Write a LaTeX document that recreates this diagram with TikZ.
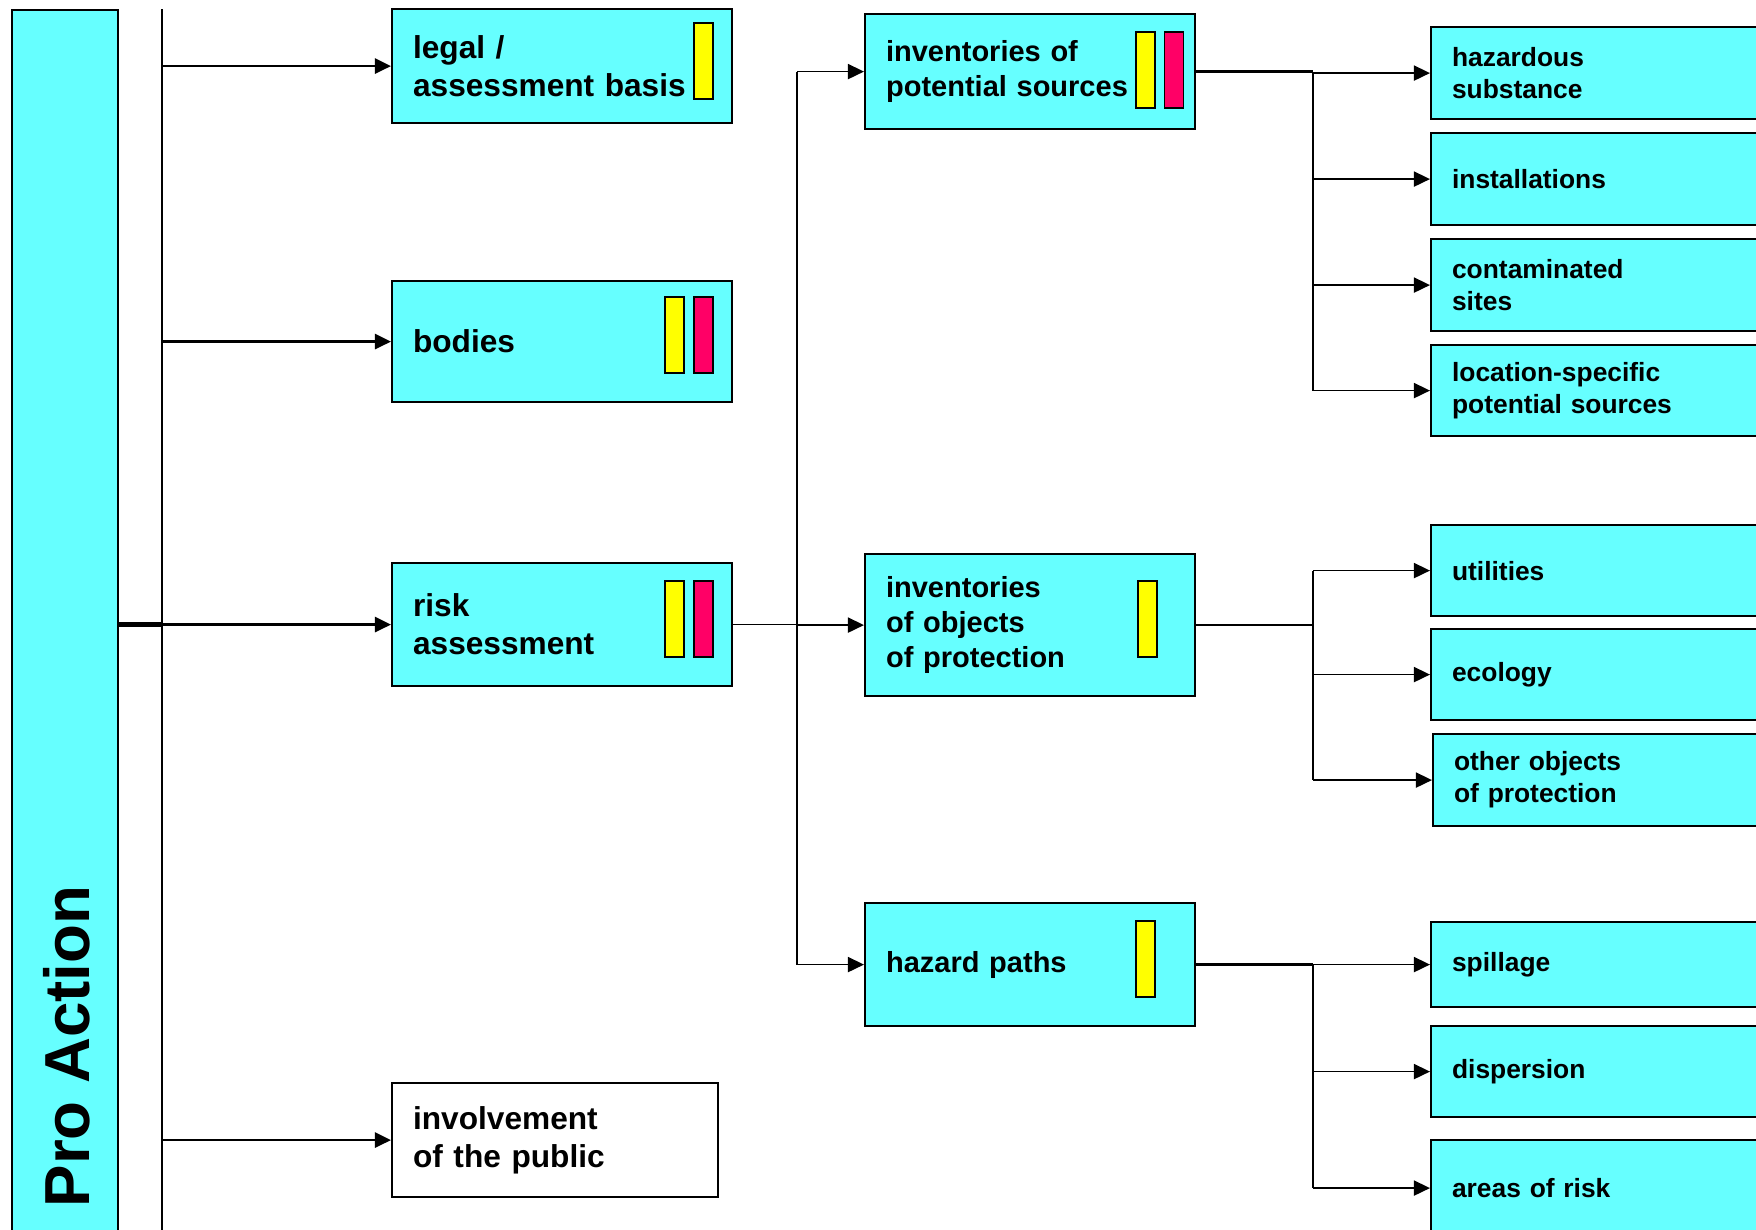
\documentclass[tikz,border=0pt]{standalone}
\usepackage{fontspec}
\setmainfont{Liberation Sans}
\usetikzlibrary{arrows.meta}

\definecolor{procyan}{RGB}{102,255,255}
\definecolor{proyellow}{RGB}{255,255,0}
\definecolor{prored}{RGB}{255,0,102}

\tikzstyle{box}=[draw,line width=0.6pt,fill=procyan,anchor=north west,align=left,inner ysep=0pt,inner xsep=0.21cm]
\tikzstyle{lvlone}=[box,text width=2.98cm,font=\bfseries\fontsize{9}{10.8}\selectfont]
\tikzstyle{lvltwo}=[box,text width=2.88cm,font=\bfseries\fontsize{8.25}{9.9}\selectfont]
\tikzstyle{lvlthree}=[box,text width=2.98cm,font=\bfseries\fontsize{7.5}{9.1}\selectfont]
\tikzstyle{flag}=[draw,line width=0.4pt,minimum width=0.19cm,minimum height=0.76cm,inner sep=0pt]
\tikzstyle{wire}=[draw,line width=0.5pt]
\tikzstyle{link}=[wire,-{Triangle[length=1.6mm,width=1.5mm]}]

\begin{document}
\begin{tikzpicture}[x=0.01cm, y=-0.01cm]
    \useasboundingbox (0,0) rectangle (1756,1230);
    \clip (0,0) rectangle (1756,1230);
    % Pro Action bar and the trunk beside it
    \node[draw,line width=0.6pt,fill=procyan,anchor=north west,minimum width=1.06cm,minimum height=12.4cm,inner sep=0pt] (pro) at (11,9) {};
    \node[rotate=90,anchor=base west,inner sep=0pt,font=\bfseries\fontsize{18.1}{20}\selectfont] (protext) at (89,1208) {Pro Action};
    \coordinate (trunktop) at (162,9);
    \coordinate (trunkbot) at (162,1240);
    \draw[line width=0.6pt] (trunktop) -- (trunkbot);
    % First column
    \foreach \pos/\h/\name/\txt in {{(391,8)/1.14/legal/{legal /\\assessment basis}}, {(391,280)/1.21/bodies/bodies}, {(391,562)/1.23/risk/{risk\\assessment}}}
        \node[lvlone,minimum height=\h cm] (\name) at \pos {\txt};
    \node[lvlone,fill=white,text width=2.84cm,minimum height=1.14cm] (public) at (391,1082) {involvement\\of the public};
    % Second column
    \foreach \pos/\h/\name/\txt in {{(864,13)/1.15/potential/{inventories of\\potential sources}}, {(864,553)/1.42/objects/{inventories\\of objects\\of protection}}, {(864,902)/1.23/hazard/{hazard paths}}}
        \node[lvltwo,minimum height=\h cm] (\name) at \pos {\txt};
    % Third column
    \foreach \pos/\h/\name/\txt in {{(1430,26)/0.92/haz/{hazardous\\substance}}, {(1430,132)/0.92/inst/installations}, {(1430,238)/0.92/cont/{contaminated\\sites}}, {(1430,344)/0.91/loc/{location-specific\\potential sources}},
        {(1430,524)/0.91/util/utilities}, {(1430,628)/0.91/eco/ecology}, {(1432,733)/0.92/other/{other objects\\of protection}},
        {(1430,921)/0.85/spill/spillage}, {(1430,1025)/0.91/disp/dispersion}, {(1430,1139)/0.96/areas/{areas of risk}}}
        \node[lvlthree,minimum height=\h cm] (\name) at \pos {\txt};
    % Coloured flags in the boxes
    \foreach \pos/\name/\col in {{(703.5,61)/legal-y/proyellow}, {(674.5,335)/bodies-y/proyellow}, {(703.5,335)/bodies-r/prored},
        {(674.5,619)/risk-y/proyellow}, {(703.5,619)/risk-r/prored}, {(1145.5,70)/potential-y/proyellow}, {(1174,70)/potential-r/prored},
        {(1147.5,619)/objects-y/proyellow}, {(1145.5,959)/hazard-y/proyellow}}
        \node[flag,fill=\col] (\name) at \pos {};
    % Connect Pro Action with the first column
    \draw[line width=1.2pt] (pro.east |- risk.west) -- (trunktop |- risk.west);
    \foreach \dest in {legal,bodies,risk,public}
        \path[link,line width=0.7pt] (trunktop |- \dest.west) -- (\dest.west);
    % risk assessment to the inventories
    \coordinate (split) at (797,0);
    \path[wire] (risk.east) -- (split |- risk.east);
    \path[wire] (split |- potential.west) -- (split |- hazard.west);
    \foreach \dest in {potential,objects,hazard}
        \path[link] (split |- \dest.west) -- (\dest.west);
    % inventories to their items
    \coordinate (fork) at (1313,0);
    \foreach \source/\first/\last in {potential/haz/loc, objects/util/other, hazard/spill/areas} {
        \path[wire,line width=0.7pt] (\source.east) -- (fork |- \source.east);
        \path[wire] (fork |- \first.west) -- (fork |- \last.west);
    }
    \foreach \dest in {haz,inst,cont,loc,util,eco,other,spill,disp,areas}
        \path[link] (fork |- \dest.west) -- (\dest.west);
\end{tikzpicture}
\end{document}
